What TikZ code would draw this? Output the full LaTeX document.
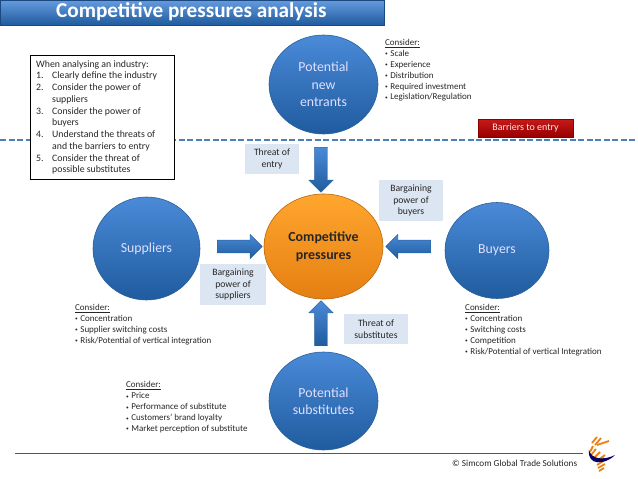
\documentclass[tikz,border=0pt]{standalone}
\usepackage{fontspec}
\setmainfont{Carlito}
\usepackage{xcolor}
\usetikzlibrary{shapes.geometric,shapes.arrows,calc,positioning}

\definecolor{ballTop}{HTML}{4A8AD8}
\definecolor{ballBottom}{HTML}{1F5B9E}
\definecolor{ballEdge}{HTML}{2A6099}
\definecolor{orangeTop}{HTML}{FFA62E}
\definecolor{orangeBottom}{HTML}{E57F12}
\definecolor{labelFill}{HTML}{DCE6F2}
\definecolor{dashLine}{HTML}{4F7FB8}
\definecolor{textGrey}{HTML}{262626}

\newcommand{\itm}{\raisebox{0.6pt}{\scalebox{.6}{•}}\hspace{2.5pt}}
\newcommand{\stepnum}[1]{\makebox[16pt][l]{#1}}

\tikzset{
  force/.style={ellipse, draw=ballEdge, line width=0.6pt, top color=ballTop, bottom color=ballBottom,
    text=white!88!blue, align=center, inner sep=0pt, font=\fontsize{13.8}{16.8}\selectfont},
  label box/.style={fill=labelFill, align=center, inner sep=0pt, text=textGrey,
    font=\fontsize{9.7}{11.8}\selectfont},
  note/.style={align=left, inner sep=0pt, anchor=north west, text=textGrey,
    font=\fontsize{9}{10.9}\selectfont},
  block/.style={single arrow, draw=ballEdge, line width=0.4pt, top color=ballTop, bottom color=ballBottom,
    minimum width=24pt, minimum height=45pt, single arrow head extend=5.75pt,
    single arrow tip angle=90, inner sep=6.25pt}
}

\begin{document}
\begin{tikzpicture}[x=1pt,y=-1pt]
  \useasboundingbox (0,0) rectangle (638,479);

  % rules
  \coordinate (dashL) at (0,140);
  \coordinate (dashR) at (638,140);
  \draw[color=dashLine, line width=1.8pt, dash pattern=on 6pt off 2.5pt] (dashL) -- (dashR);
  \coordinate (ruleL) at (15,453);
  \coordinate (ruleR) at (583,453);
  \draw[color=ballEdge, line width=0.8pt] (ruleL) -- (ruleR);

  % title
  \node[draw=ballBottom!80!black, line width=0.8pt, top color=ballTop!85!white, bottom color=ballBottom,
    minimum width=384pt, minimum height=25pt, inner sep=0pt] (banner) at (192,12.5) {};
  \node[text=white, inner sep=0pt, font=\fontsize{21.2}{24}\bfseries\selectfont, anchor=west] (title) at (56,12)
    {Competitive pressures analysis};

  % the five forces
  \node[force, minimum width=109pt, minimum height=99pt, font=\fontsize{13.8}{17.6}\selectfont] (entrants) at (323.5,84.5)
    {Potential\\new\\entrants};
  \node[force, minimum width=107pt, minimum height=103pt] (suppliers) at (146.5,248.5) {Suppliers};
  \node[force, minimum width=104pt, minimum height=96pt] (buyers) at (497,250.5) {Buyers};
  \node[force, minimum width=109pt, minimum height=98pt] (substitutes) at (323.5,401)
    {Potential\\substitutes};
  \node[force, draw=orangeBottom!80!black, top color=orangeTop, bottom color=orangeBottom, text=black!85,
    minimum width=119pt, minimum height=105pt, font=\fontsize{13.9}{17.5}\bfseries\selectfont]
    (pressures) at (323.5,246.5) {Competitive\\pressures};

  % block arrows
  \node[block, rotate=-90] (arrowTop) at (321,166.5) {};
  \node[block] (arrowLeft) at (236.5,246.5) {};
  \node[block, rotate=180] (arrowRight) at (411.5,246.5) {};
  \node[block, rotate=90] (arrowBottom) at (321,326.5) {};

  % labels on the arrows
  \node[label box, minimum width=54pt, minimum height=30pt] (threatEntry) at (272,159) {Threat of\\entry};
  \node[label box, minimum width=64pt, minimum height=41pt] (powerBuyers) at (411,200.5)
    {Bargaining\\power of\\buyers};
  \node[label box, minimum width=66pt, minimum height=41pt] (powerSuppliers) at (233,284.5)
    {Bargaining\\power of\\suppliers};
  \node[label box, minimum width=64pt, minimum height=30pt] (threatSubs) at (376,329)
    {Threat of\\substitutes};

  \node[draw=red!55!black, line width=0.5pt, top color=red!75!black!90!white, bottom color=red!60!black,
    text=white!90!red, minimum width=95pt, minimum height=18pt, inner sep=0pt,
    font=\fontsize{10}{12}\selectfont] (barriers) at (525.5,128) {Barriers to entry};

  % notes
  \node[draw=black, fill=white, line width=1pt, minimum width=144pt, minimum height=124pt, inner sep=0pt] (steps) at (102.5,117) {};
  \node[note, font=\fontsize{9.8}{11.75}\selectfont, right=6pt of steps.west, anchor=west, yshift=-0.5pt]
    (stepsText) {When analysing an industry:\\
    \stepnum{1.}Clearly define the industry\\
    \stepnum{2.}Consider the power of\\
    \stepnum{}suppliers\\
    \stepnum{3.}Consider the power of\\
    \stepnum{}buyers\\
    \stepnum{4.}Understand the threats of\\
    \stepnum{}and the barriers to entry\\
    \stepnum{5.}Consider the threat of\\
    \stepnum{}possible substitutes};

  \node[note] (noteEntrants) at (385,39) {\underline{Consider:}\\
    \itm Scale\\ \itm Experience\\ \itm Distribution\\ \itm Required investment\\ \itm Legislation/Regulation};
  \node[note] (noteSuppliers) at (75,304) {\underline{Consider:}\\
    \itm Concentration\\ \itm Supplier switching costs\\ \itm Risk/Potential of vertical integration};
  \node[note] (noteBuyers) at (465,304) {\underline{Consider:}\\
    \itm Concentration\\ \itm Switching costs\\ \itm Competition\\ \itm Risk/Potential of vertical Integration};
  \node[note] (noteSubs) at (126,381.5) {\underline{Consider:}\\
    \itm Price\\ \itm Performance of substitute\\ \itm Customers’ brand loyalty\\ \itm Market perception of substitute};

  % footer and logo
  \node[note, anchor=west, font=\fontsize{9.2}{11}\selectfont] (copyright) at (452,463)
    {© Simcom Global Trade Solutions};
  \foreach \xa/\ya/\xb/\yb in {597/437/592/443,601/438/595/445,609/441/597/445,593/446/590/452,
      596/449/591/455,600/452/594/458,605/455/598/460,597/461/604/458,597/465/603/461,598/468/605/464,599/471/604/468}
    \draw[orange!70!brown, line width=1.8pt] (\xa,\ya) -- (\xb,\yb);
  \fill[blue!40!black] (615,455) .. controls (604,466) and (587,465) .. (589,450)
    .. controls (591,459) and (603,461) .. (615,455) -- cycle;
\end{tikzpicture}
\end{document}
